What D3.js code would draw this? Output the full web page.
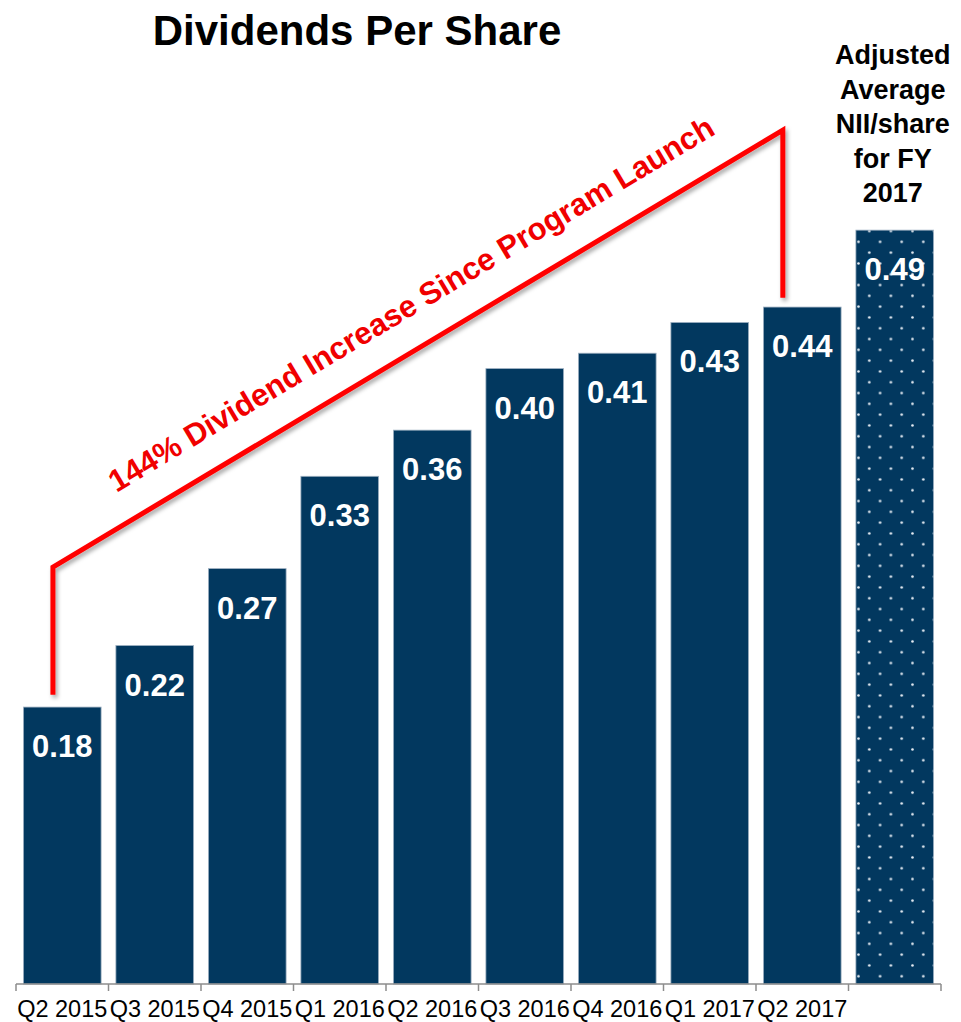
<!DOCTYPE html>
<html>
<head>
<meta charset="utf-8">
<script src="https://cdn.jsdelivr.net/npm/d3@7"></script>
<style>
  html, body { margin: 0; padding: 0; background: #fff; }
  svg { display: block; font-family: "Liberation Sans", Arial, sans-serif; }
</style>
</head>
<body>
<svg id="chart" width="961" height="1022"></svg>
<script>
// Quarterly dividends per share, plus the adjusted average NII/share for FY 2017
const categories = ["Q2 2015", "Q3 2015", "Q4 2015", "Q1 2016", "Q2 2016",
                    "Q3 2016", "Q4 2016", "Q1 2017", "Q2 2017", "FY 2017"];
const values = [0.18, 0.22, 0.27, 0.33, 0.36, 0.40, 0.41, 0.43, 0.44, 0.49];
const valueLabels = ["0.18", "0.22", "0.27", "0.33", "0.36", "0.40", "0.41", "0.43", "0.44", "0.49"];
const tickLabels = ["Q2 2015", "Q3 2015", "Q4 2015", "Q1 2016", "Q2 2016",
                    "Q3 2016", "Q4 2016", "Q1 2017", "Q2 2017", ""];
const projected = ["FY 2017"];
const sideNote = ["Adjusted", "Average", "NII/share", "for FY", "2017"];
const title = "Dividends Per Share";
const bracketText = "144% Dividend Increase Since Program Launch";
// bracket: from the first payout to the latest one, in value units
const bracketFrom = { cat: "Q2 2015", low: 0.188, high: 0.271 };
const bracketTo = { cat: "Q2 2017", low: 0.446, high: 0.555 };

const svg = d3.select("#chart");
const BAR = "#02385f";

const x = d3.scaleBand().domain(categories).range([16, 941])
  .paddingInner(0.16).paddingOuter(0.08);
const y = d3.scaleLinear().domain([0, 0.5]).range([984, 984 - 769.25]);

const defs = svg.append("defs");
const pat = defs.append("pattern")
  .attr("id", "dots").attr("patternUnits", "userSpaceOnUse")
  .attr("width", 21.6).attr("height", 21.6)
  .attr("x", x("FY 2017") - 2.8).attr("y", y(0.49) + 6.3);
pat.append("rect").attr("width", 21.6).attr("height", 21.6).attr("fill", BAR);
pat.append("circle").attr("cx", 5.4).attr("cy", 5.4).attr("r", 1.3).attr("fill", "#e8eef4");
pat.append("circle").attr("cx", 16.2).attr("cy", 16.2).attr("r", 1.3).attr("fill", "#e8eef4");

const shadow = defs.append("filter").attr("id", "shadow")
  .attr("x", "-20%").attr("y", "-20%").attr("width", "140%").attr("height", "140%");
shadow.append("feDropShadow").attr("dx", 2).attr("dy", 3).attr("stdDeviation", 2)
  .attr("flood-color", "#000").attr("flood-opacity", 0.35);

// bars
const data = categories.map((c, i) => ({ cat: c, v: values[i], label: valueLabels[i] }));
svg.append("g").selectAll("rect").data(data).join("rect")
  .attr("x", d => x(d.cat)).attr("width", x.bandwidth())
  .attr("y", d => y(d.v)).attr("height", d => y(0) - y(d.v))
  .attr("fill", d => projected.includes(d.cat) ? "url(#dots)" : BAR)
  .attr("stroke", "#9fb1c2").attr("stroke-width", 0.8);

// value labels
svg.append("g").selectAll("text").data(data).join("text")
  .attr("x", d => x(d.cat) + x.bandwidth() / 2)
  .attr("y", d => y(d.v) + 50)
  .attr("text-anchor", "middle")
  .attr("fill", "#fff").attr("font-weight", "bold").attr("font-size", 31)
  .text(d => d.label);

// axis line and boundary ticks
const axis = svg.append("g");
axis.append("line").attr("x1", x.range()[0]).attr("x2", x.range()[1])
  .attr("y1", y(0)).attr("y2", y(0)).attr("stroke", "#8c8c8c").attr("stroke-width", 1.5);
const bounds = d3.range(categories.length + 1).map(i => x.range()[0] + i * x.step());
axis.selectAll("line.tick").data(bounds).join("line").attr("class", "tick")
  .attr("x1", d => d).attr("x2", d => d)
  .attr("y1", y(0)).attr("y2", y(0) + 7)
  .attr("stroke", "#8c8c8c").attr("stroke-width", 1.5);
axis.selectAll("text").data(categories).join("text")
  .attr("x", d => x(d) + x.bandwidth() / 2).attr("y", 1017)
  .attr("text-anchor", "middle").attr("font-size", 23.5).attr("fill", "#000")
  .text((d, i) => tickLabels[i]);

// title
svg.append("text").attr("x", 357).attr("y", 45).attr("text-anchor", "middle")
  .attr("font-size", 42).attr("font-weight", "bold").attr("fill", "#000").text(title);

// side note above the projected bar
const noteX = x("FY 2017") + x.bandwidth() / 2 - 2;
svg.append("text").attr("text-anchor", "middle")
  .attr("font-size", 27).attr("font-weight", "bold").attr("fill", "#000")
  .selectAll("tspan").data(sideNote).join("tspan")
  .attr("x", noteX).attr("y", (d, i) => 64 + i * 34.5).text(d => d);

// red bracket
const lx = x(bracketFrom.cat) + x.bandwidth() * 0.38;
const rx = x(bracketTo.cat) + x.bandwidth() * 0.25;
const pts = [[lx, y(bracketFrom.low)], [lx, y(bracketFrom.high)],
             [rx, y(bracketTo.high)], [rx, y(bracketTo.low)]];
svg.append("path").attr("d", d3.line()(pts))
  .attr("fill", "none").attr("stroke", "#ff0000").attr("stroke-width", 5)
  .attr("stroke-linejoin", "miter").attr("filter", "url(#shadow)");

const [p1, p2] = [pts[1], pts[2]];
const ang = Math.atan2(p2[1] - p1[1], p2[0] - p1[0]) * 180 / Math.PI;
const mx = (p1[0] + p2[0]) / 2, my = (p1[1] + p2[1]) / 2;
svg.append("text")
  .attr("transform", `translate(${mx},${my}) rotate(${ang}) translate(17,-31)`)
  .attr("text-anchor", "middle").attr("font-size", 31).attr("font-weight", "bold")
  .attr("fill", "#f00000").text(bracketText);
</script>
</body>
</html>
